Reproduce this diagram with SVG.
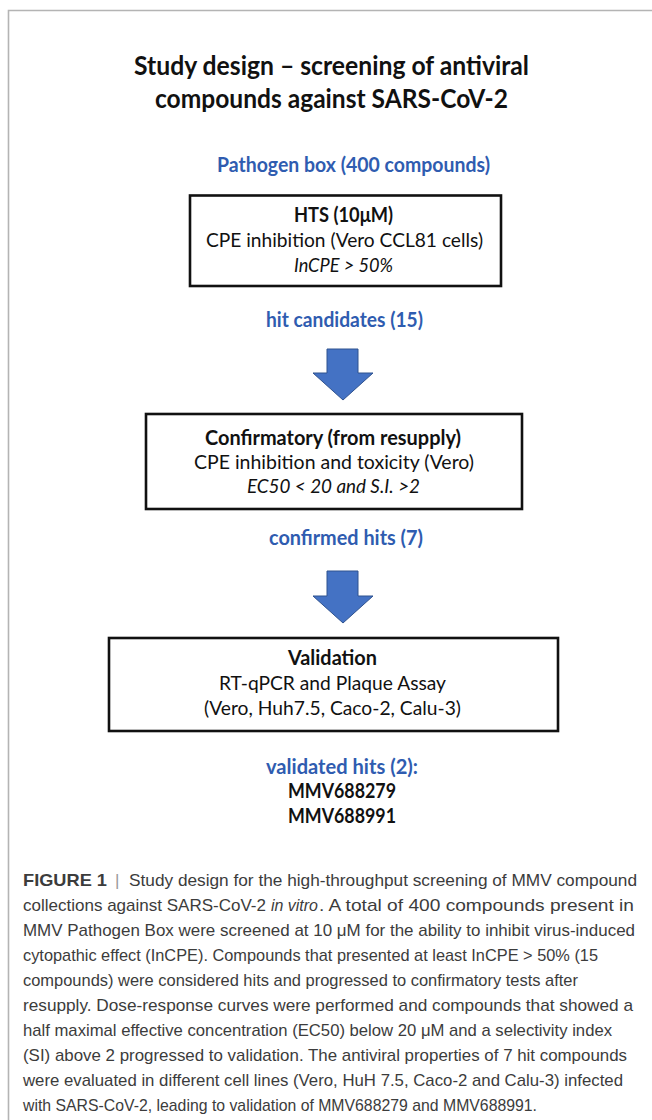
<svg xmlns="http://www.w3.org/2000/svg" width="652" height="1120" viewBox="0 0 652 1120">
<style>
.d{font-family:Lato,"Open Sans","Liberation Sans",sans-serif;font-size:20px;fill:#111}
.b{font-weight:bold}
.i{font-style:italic}
.blue{fill:#2f5cb0;font-weight:bold}
.title{font-family:Lato,"Open Sans","Liberation Sans",sans-serif;font-size:26.5px;font-weight:bold;fill:#111}
.box{fill:#fff;stroke:#111;stroke-width:2.6}
.arrow{fill:#4472c4;stroke:#2f528f;stroke-width:1}
.cap{font-family:"Liberation Sans",Arial,sans-serif;font-size:17px;fill:#3c3c3c}
.sep{fill:#999}
</style>
<rect x="0" y="0" width="652" height="1120" fill="#fff"/>
<path d="M8.5 1120 V10.5 H652" fill="none" stroke="#b4b4b4" stroke-width="1.6"/>

<g id="title">
<text class="title" x="134" y="75" textLength="395" lengthAdjust="spacingAndGlyphs">Study design – screening of antiviral</text>
<text class="title" x="155" y="108" textLength="353" lengthAdjust="spacingAndGlyphs">compounds against SARS-CoV-2</text>
</g>

<g id="pathogen-box">
<text class="d blue" x="217" y="172" textLength="273" lengthAdjust="spacingAndGlyphs">Pathogen box (400 compounds)</text>
</g>

<g id="hts">
<rect class="box" x="190" y="195.5" width="311" height="90.5"/>
<text class="d b" x="294" y="222" textLength="99" lengthAdjust="spacingAndGlyphs">HTS (10μM)</text>
<text class="d" x="206" y="247" textLength="277" lengthAdjust="spacingAndGlyphs">CPE inhibition (Vero CCL81 cells)</text>
<text class="d i" x="294" y="272" textLength="99" lengthAdjust="spacingAndGlyphs">InCPE &gt; 50%</text>
</g>

<g id="hit-candidates">
<text class="d blue" x="266" y="327" textLength="157" lengthAdjust="spacingAndGlyphs">hit candidates (15)</text>
</g>

<g id="confirmatory">
<rect class="box" x="146" y="414" width="376" height="95"/>
<text class="d b" x="205" y="445" textLength="256" lengthAdjust="spacingAndGlyphs">Confirmatory (from resupply)</text>
<text class="d" x="194" y="469" textLength="280" lengthAdjust="spacingAndGlyphs">CPE inhibition and toxicity (Vero)</text>
<text class="d i" x="247" y="493" textLength="173" lengthAdjust="spacingAndGlyphs">EC50 &lt; 20 and S.I. &gt;2</text>
</g>

<g id="confirmed-hits">
<text class="d blue" x="269" y="545" textLength="154" lengthAdjust="spacingAndGlyphs">confirmed hits (7)</text>
</g>

<g id="validation">
<rect class="box" x="109" y="638" width="449" height="93"/>
<text class="d b" x="288" y="665" textLength="89" lengthAdjust="spacingAndGlyphs">Validation</text>
<text class="d" x="219" y="690" textLength="227" lengthAdjust="spacingAndGlyphs">RT-qPCR and Plaque Assay</text>
<text class="d" x="204" y="715" textLength="257" lengthAdjust="spacingAndGlyphs">(Vero, Huh7.5, Caco-2, Calu-3)</text>
</g>

<g id="validated-hits">
<text class="d blue" x="266" y="774" textLength="152" lengthAdjust="spacingAndGlyphs">validated hits (2):</text>
<text class="d b" x="288" y="798" textLength="108" lengthAdjust="spacingAndGlyphs">MMV688279</text>
<text class="d b" x="288" y="823" textLength="108" lengthAdjust="spacingAndGlyphs">MMV688991</text>
</g>

<g id="connectors">
<polygon class="arrow" points="327,349 358,349 358,373 373,373 343,400 313,373 327,373"/>
<polygon class="arrow" points="327,571 358,571 358,596 373,596 343,623 313,596 327,596"/>
</g>

<g id="caption">
<text class="cap" x="23" y="886" font-weight="bold" fill="#222" textLength="84" lengthAdjust="spacingAndGlyphs">FIGURE 1</text>
<text class="cap sep" x="115" y="886">|</text>
<text class="cap" x="129" y="886" textLength="508" lengthAdjust="spacingAndGlyphs">Study design for the high-throughput screening of MMV compound</text>
<text class="cap" x="23" y="911" textLength="243" lengthAdjust="spacingAndGlyphs">collections against SARS-CoV-2</text>
<text class="cap" x="271" y="911" font-style="italic" textLength="47" lengthAdjust="spacingAndGlyphs">in vitro</text>
<text class="cap" x="319" y="911" textLength="315" lengthAdjust="spacingAndGlyphs">. A total of 400 compounds present in</text>
<text class="cap" x="23" y="936" textLength="612" lengthAdjust="spacingAndGlyphs">MMV Pathogen Box were screened at 10 μM for the ability to inhibit virus-induced</text>
<text class="cap" x="23" y="961" textLength="575" lengthAdjust="spacingAndGlyphs">cytopathic effect (InCPE). Compounds that presented at least InCPE &gt; 50% (15</text>
<text class="cap" x="23" y="986" textLength="555" lengthAdjust="spacingAndGlyphs">compounds) were considered hits and progressed to confirmatory tests after</text>
<text class="cap" x="23" y="1011" textLength="610" lengthAdjust="spacingAndGlyphs">resupply. Dose-response curves were performed and compounds that showed a</text>
<text class="cap" x="23" y="1036" textLength="589" lengthAdjust="spacingAndGlyphs">half maximal effective concentration (EC50) below 20 μM and a selectivity index</text>
<text class="cap" x="23" y="1061" textLength="604" lengthAdjust="spacingAndGlyphs">(SI) above 2 progressed to validation. The antiviral properties of 7 hit compounds</text>
<text class="cap" x="23" y="1086" textLength="600" lengthAdjust="spacingAndGlyphs">were evaluated in different cell lines (Vero, HuH 7.5, Caco-2 and Calu-3) infected</text>
<text class="cap" x="23" y="1111" textLength="514" lengthAdjust="spacingAndGlyphs">with SARS-CoV-2, leading to validation of MMV688279 and MMV688991.</text>
</g>
</svg>
